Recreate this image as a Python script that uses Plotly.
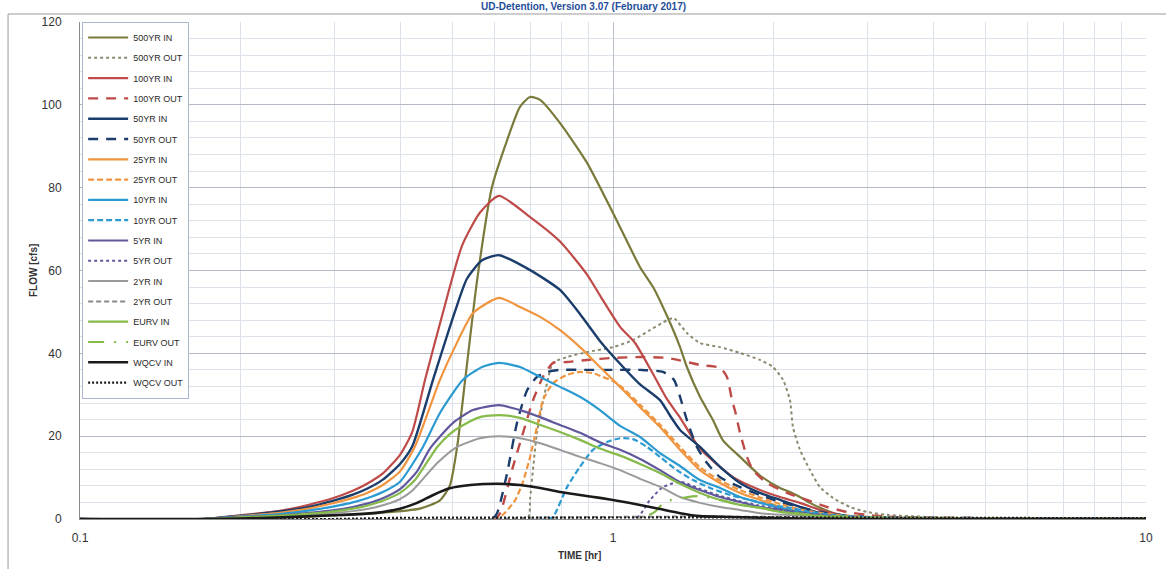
import plotly.graph_objects as go

# ---------------- data (time in hr, flow in cfs) ----------------
t_500_in = [0.1, 0.17, 0.2, 0.259, 0.3655, 0.434, 0.4735, 0.494, 0.51, 0.528, 0.556, 0.593, 0.633, 0.669, 0.699, 0.73, 0.7955, 0.894, 1.0, 1.124, 1.189, 1.263, 1.336, 1.376, 1.456, 1.54, 1.608, 1.731, 1.887, 2.058, 2.148, 2.243, 2.342, 2.446, 2.666, 3.035, 4.29, 10]
q_500_in = [0, 0, 0.2, 0.6, 1.5, 2.5, 4.5, 8, 17.4, 33.6, 57.7, 80.2, 91.5, 99.5, 101.9, 101.2, 95.6, 86, 73.9, 60.8, 56, 49, 41.5, 36.7, 29.5, 23.9, 19, 15, 10.5, 7.5, 6.5, 5.3, 3.9, 2.7, 1.0, 0.3, 0.1, 0]

t_500_out = [0.1, 0.69, 0.699, 0.72, 0.752, 0.7715, 0.82, 0.894, 1.0, 1.09, 1.173, 1.263, 1.301, 1.376, 1.456, 1.588, 1.731, 1.887, 1.996, 2.084, 2.148, 2.176, 2.243, 2.342, 2.446, 2.586, 2.784, 2.996, 3.266, 4.29, 6, 10]
q_500_out = [0, 0, 5, 20.8, 32.8, 37.7, 39.1, 40.3, 41.5, 43.2, 45.6, 48, 48.5, 44.9, 42.5, 41.5, 40.1, 38.4, 36.7, 33.6, 28.7, 22.2, 16.7, 11.8, 7.7, 5.1, 2.9, 1.7, 1.0, 0.3, 0.1, 0]

t_100_in = [0.1, 0.17, 0.2, 0.237, 0.27, 0.298, 0.325, 0.3455, 0.37, 0.3985, 0.42, 0.444, 0.48, 0.521, 0.563, 0.611, 0.699, 0.7955, 0.894, 0.945, 1.031, 1.1, 1.189, 1.262, 1.336, 1.456, 1.68, 1.887, 2.058, 2.243, 2.446, 2.666, 3.035, 4.5, 10]
q_100_in = [0, 0, 0.9, 2.0, 3.5, 5.0, 6.8, 8.5, 11.0, 15.5, 21.0, 33.6, 50.0, 66.0, 74.0, 78.0, 72.9, 67.0, 59.0, 54.0, 46.4, 42.5, 35.0, 29.0, 24.5, 17.0, 10.1, 7.0, 5.3, 3.9, 2.2, 1.0, 0.3, 0.1, 0]

t_100_out = [0.1, 0.6005, 0.614, 0.649, 0.678, 0.708, 0.739, 0.772, 0.82, 0.894, 1.0, 1.124, 1.263, 1.456, 1.588, 1.636, 1.672, 1.695, 1.731, 1.784, 1.831, 1.945, 2.121, 2.312, 2.52, 2.748, 2.996, 3.455, 5.32, 10]
q_100_out = [0, 0, 1.4, 12.6, 20.8, 28.7, 34.3, 37.7, 37.9, 38.4, 38.9, 39.1, 38.9, 37.2, 36.5, 34.3, 28.7, 26.0, 20.8, 15.0, 11.8, 8.7, 6.3, 4.6, 2.9, 1.7, 1.0, 0.4, 0.2, 0.1]

t_50_in = [0.1, 0.17, 0.2, 0.237, 0.27, 0.298, 0.325, 0.3455, 0.37, 0.3985, 0.42, 0.4595, 0.505, 0.532, 0.568, 0.611, 0.699, 0.7955, 0.867, 0.945, 1.031, 1.124, 1.225, 1.279, 1.336, 1.456, 1.588, 1.731, 1.887, 2.058, 2.243, 2.446, 2.75, 4.0, 10]
q_50_in = [0, 0, 0.8, 1.8, 3.0, 4.4, 5.9, 7.3, 9.5, 13.3, 17.5, 33.6, 50.0, 58.0, 62.5, 63.7, 60.1, 55.3, 49.5, 43.0, 37.5, 32.5, 28.7, 25.0, 21.5, 17.4, 12.6, 8.7, 6.3, 4.6, 2.9, 1.4, 0.3, 0.1, 0]

t_50_out = [0.1, 0.593, 0.606, 0.633, 0.6605, 0.69, 0.72, 0.752, 0.7955, 0.894, 1.0, 1.124, 1.241, 1.301, 1.336, 1.376, 1.437, 1.501, 1.588, 1.731, 1.887, 2.058, 2.243, 2.446, 2.666, 3.17, 5.32, 10]
q_50_out = [0, 0, 1.4, 11.1, 23.2, 31.1, 34.3, 35.5, 36.0, 36.0, 36.0, 36.0, 35.5, 33.6, 29.5, 23.9, 17.4, 13.5, 10.1, 7.7, 5.8, 4.1, 2.9, 1.7, 1.0, 0.4, 0.2, 0.1]

t_25_in = [0.1, 0.17, 0.2, 0.237, 0.27, 0.298, 0.325, 0.3455, 0.37, 0.3985, 0.425, 0.4735, 0.505, 0.546, 0.611, 0.669, 0.73, 0.7955, 0.867, 0.945, 1.031, 1.124, 1.225, 1.336, 1.456, 1.588, 1.731, 1.887, 2.058, 2.243, 2.666, 4.0, 10]
q_25_in = [0, 0, 0.7, 1.5, 2.6, 3.8, 5.1, 6.3, 8.2, 11.5, 17.5, 33.6, 41.5, 49.7, 53.4, 51.2, 48.8, 45.6, 41.5, 36.7, 31.9, 27.0, 22.2, 16.7, 11.8, 8.7, 6.3, 4.6, 2.9, 1.7, 0.5, 0.1, 0]

t_25_out = [0.1, 0.606, 0.627, 0.655, 0.678, 0.699, 0.72, 0.739, 0.772, 0.82, 0.867, 0.917, 0.958, 1.0, 1.031, 1.124, 1.225, 1.336, 1.456, 1.588, 1.731, 1.887, 2.058, 2.243, 2.446, 2.666, 3.2, 5.32, 10]
q_25_out = [0, 0, 1.5, 4.5, 9.0, 15.0, 22.2, 28.7, 32.8, 34.8, 35.5, 35.2, 34.3, 33.3, 32.2, 27.6, 22.8, 17.4, 12.5, 9.3, 7.0, 5.2, 3.6, 2.3, 1.5, 0.9, 0.4, 0.2, 0.1]

t_10_in = [0.1, 0.17, 0.2, 0.237, 0.27, 0.298, 0.325, 0.3455, 0.37, 0.3985, 0.44, 0.4735, 0.523, 0.568, 0.611, 0.669, 0.73, 0.7955, 0.867, 0.945, 1.031, 1.124, 1.225, 1.336, 1.456, 1.588, 1.731, 1.887, 2.058, 2.243, 2.666, 4.0, 10]
q_10_in = [0, 0, 0.6, 1.2, 2.1, 3.0, 4.0, 5.0, 6.5, 9.0, 17.4, 25.6, 33.6, 36.7, 37.7, 36.7, 34.3, 31.9, 29.5, 26.3, 22.5, 19.8, 15.9, 12.8, 9.4, 7.5, 5.3, 3.9, 2.7, 1.7, 0.5, 0.1, 0]

t_10_out = [0.1, 0.755, 0.772, 0.82, 0.867, 0.917, 0.9745, 1.031, 1.09, 1.158, 1.225, 1.318, 1.413, 1.521, 1.658, 1.807, 1.971, 2.148, 2.342, 2.586, 3.035, 5.32, 10]
q_10_out = [0, 0, 0.5, 7.7, 12.6, 16.7, 18.6, 19.5, 19.3, 17.4, 15.0, 11.8, 9.4, 7.5, 5.8, 4.6, 3.4, 2.7, 1.7, 1.0, 0.4, 0.2, 0.1]

t_5_in = [0.1, 0.17, 0.2, 0.237, 0.27, 0.298, 0.325, 0.3455, 0.37, 0.3985, 0.429, 0.4535, 0.501, 0.546, 0.611, 0.669, 0.73, 0.7955, 0.867, 0.945, 1.031, 1.124, 1.225, 1.336, 1.456, 1.588, 1.731, 1.887, 2.058, 2.243, 2.784, 4.0, 10]
q_5_in = [0, 0, 0.5, 0.9, 1.5, 2.1, 2.9, 3.7, 5.0, 7.2, 11.5, 17.0, 23.2, 26.3, 27.5, 26.3, 24.6, 22.7, 20.8, 18.5, 16.7, 14.5, 11.8, 8.9, 7.0, 5.3, 4.1, 2.9, 2.2, 1.4, 0.3, 0.1, 0]

t_5_out = [0.1, 1.1, 1.173, 1.241, 1.336, 1.456, 1.588, 1.731, 1.887, 2.058, 2.243, 2.5, 3.0, 4.0, 10]
q_5_out = [0, 0, 4.6, 7.7, 9.0, 7.3, 5.6, 4.3, 3.2, 2.4, 1.6, 0.9, 0.4, 0.2, 0.1]

t_2_in = [0.1, 0.17, 0.2, 0.237, 0.27, 0.298, 0.325, 0.3455, 0.37, 0.3985, 0.42, 0.468, 0.51, 0.563, 0.611, 0.669, 0.73, 0.7955, 0.867, 0.945, 1.031, 1.124, 1.225, 1.336, 1.456, 1.588, 1.731, 1.887, 2.1, 2.784, 4.0, 10]
q_2_in = [0, 0, 0.3, 0.6, 1.0, 1.4, 1.9, 2.4, 3.3, 4.8, 6.8, 13.5, 17.4, 19.5, 20.0, 19.5, 18.3, 16.7, 15.0, 13.5, 11.8, 9.7, 7.8, 5.3, 3.9, 2.9, 2.2, 1.4, 1.0, 0.2, 0.05, 0]

t_2_out = [0.1, 0.6, 0.7, 1.0, 1.5, 2.0, 3.0, 4.0, 10]
q_2_out = [0, 0, 0.3, 0.5, 0.6, 0.5, 0.3, 0.2, 0.1]

t_eurv_in = [0.1, 0.17, 0.2, 0.237, 0.27, 0.298, 0.325, 0.3455, 0.37, 0.3985, 0.425, 0.468, 0.494, 0.516, 0.563, 0.611, 0.669, 0.73, 0.7955, 0.867, 0.945, 1.031, 1.124, 1.225, 1.336, 1.456, 1.588, 1.731, 1.887, 2.058, 2.243, 2.784, 4.0, 10]
q_eurv_in = [0, 0, 0.4, 0.8, 1.3, 1.8, 2.5, 3.2, 4.4, 6.3, 9.4, 17.4, 20.5, 22.2, 24.6, 25.1, 24.4, 22.7, 21.0, 19.1, 17.0, 15.3, 13.3, 11.1, 8.5, 6.3, 4.6, 3.4, 2.7, 1.7, 1.2, 0.3, 0.1, 0]

t_eurv_out = [0.1, 1.12, 1.2, 1.25, 1.38, 1.46, 1.59, 1.73, 1.89, 2.06, 2.24, 2.5, 3.0, 4.0, 10]
q_eurv_out = [0, 0, 1.8, 4.1, 5.3, 5.5, 4.6, 3.5, 2.7, 1.9, 1.3, 0.8, 0.4, 0.2, 0.1]

t_wqcv_in = [0.1, 0.17, 0.2, 0.24, 0.298, 0.3455, 0.37, 0.3985, 0.429, 0.46, 0.494, 0.54, 0.611, 0.669, 0.73, 0.7955, 0.867, 0.945, 1.031, 1.124, 1.225, 1.336, 1.456, 1.68, 2.2, 3.0, 10]
q_wqcv_in = [0, 0, 0.1, 0.4, 0.9, 1.3, 1.7, 2.5, 3.9, 5.8, 7.4, 8.2, 8.5, 8.2, 7.5, 6.5, 5.8, 5.1, 4.3, 3.4, 2.4, 1.4, 0.7, 0.5, 0.1, 0, 0]

t_wqcv_out = [0.1, 0.3, 0.4, 1.0, 2.0, 3.5, 10]
q_wqcv_out = [0, 0, 0.3, 0.4, 0.4, 0.3, 0.2]

x_tick_vals = [0.1, 1, 10]
x_tick_text = ["0.1", "1", "10"]
x_minor_vals = [0.2, 0.3, 0.4, 0.5, 0.6, 0.7, 0.8, 0.9, 2, 3, 4, 5, 6, 7, 8, 9]

series = [
    ("500YR IN", t_500_in, q_500_in, "#7A7A3A", "solid", 2.2, "spline"),
    ("500YR OUT", t_500_out, q_500_out, "#8A8A6E", "dot", 2.0, "spline"),
    ("100YR IN", t_100_in, q_100_in, "#BE4B48", "solid", 2.2, "spline"),
    ("100YR OUT", t_100_out, q_100_out, "#BE4B48", "10px,8px", 2.4, "spline"),
    ("50YR IN", t_50_in, q_50_in, "#1B3D6B", "solid", 2.4, "spline"),
    ("50YR OUT", t_50_out, q_50_out, "#1B3D6B", "10px,8px", 2.4, "spline"),
    ("25YR IN", t_25_in, q_25_in, "#F0953F", "solid", 2.2, "spline"),
    ("25YR OUT", t_25_out, q_25_out, "#F0953F", "6px,3px", 2.2, "spline"),
    ("10YR IN", t_10_in, q_10_in, "#2B9AD0", "solid", 2.2, "spline"),
    ("10YR OUT", t_10_out, q_10_out, "#2B9AD0", "6px,3px", 2.2, "spline"),
    ("5YR IN", t_5_in, q_5_in, "#5F589C", "solid", 2.2, "spline"),
    ("5YR OUT", t_5_out, q_5_out, "#5F589C", "dot", 2.0, "spline"),
    ("2YR IN", t_2_in, q_2_in, "#9A9A9A", "solid", 2.0, "spline"),
    ("2YR OUT", t_2_out, q_2_out, "#8A8A8A", "5px,3px", 2.0, "spline"),
    ("EURV IN", t_eurv_in, q_eurv_in, "#86BA4A", "solid", 2.2, "spline"),
    ("EURV OUT", t_eurv_out, q_eurv_out, "#86BA4A", "16px,10px,2px,10px", 2.2, "spline"),
    ("WQCV IN", t_wqcv_in, q_wqcv_in, "#1A1A1A", "solid", 2.6, "spline"),
    ("WQCV OUT", t_wqcv_out, q_wqcv_out, "#1A1A1A", "2px,2px", 2.2, "linear"),
]

FONT = "Liberation Sans Narrow, Arial Narrow, Liberation Sans, Arial, sans-serif"

fig = go.Figure()
for name, t, q, color, dash, width, shape in series:
    fig.add_trace(go.Scatter(
        x=t, y=q, mode="lines", name=name, legendgroup=name,
        line=dict(color=color, dash=dash, width=width, shape=shape,
                  smoothing=0.6 if shape == "spline" else None),
    ))

fig.update_layout(
    width=1166, height=569,
    margin=dict(l=80, r=20, t=22, b=50),
    paper_bgcolor="white", plot_bgcolor="white",
    font=dict(family=FONT, color="#333333", size=11),
    showlegend=True,
    legend=dict(
        x=0.002, y=1.0, xanchor="left", yanchor="top",
        bgcolor="white", bordercolor="#A9B8CF", borderwidth=1,
        font=dict(family=FONT, size=9, color="#2A2A2A"),
        tracegroupgap=1.3, itemwidth=40,
    ),
    xaxis=dict(
        type="log", range=[-1, 1],
        tickmode="array", tickvals=x_tick_vals, ticktext=x_tick_text,
        showgrid=True, gridcolor="#B9BFCB", gridwidth=1,
        minor=dict(tickmode="array", tickvals=x_minor_vals, showgrid=True,
                   gridcolor="#DCE1EA", gridwidth=1, ticks=""),
        showline=True, linecolor="#8C8C8C", linewidth=1,
        ticks="outside", ticklen=8, tickcolor="rgba(0,0,0,0)", zeroline=False,
        tickfont=dict(family=FONT, size=12, color="#333333"),
    ),
    yaxis=dict(
        range=[0, 120], dtick=20, tick0=0,
        showgrid=True, gridcolor="#B4B8C2", gridwidth=1,
        minor=dict(dtick=4, showgrid=True, gridcolor="#DCE1EA", gridwidth=1, ticks=""),
        showline=True, linecolor="#8C8C8C", linewidth=1,
        ticks="outside", ticklen=15, tickcolor="rgba(0,0,0,0)", zeroline=False,
        tickfont=dict(family=FONT, size=12, color="#333333"),
    ),
    annotations=[
        dict(text="<b>UD-Detention, Version 3.07 (February 2017)</b>", xref="paper", yref="paper",
             x=0.472, y=1.0443, xanchor="center", yanchor="top", showarrow=False,
             borderpad=0, font=dict(family=FONT, size=10, color="#1F4E9A")),
        dict(text="<b>FLOW [cfs]</b>", xref="paper", yref="paper",
             x=-0.0441, y=0.501, xanchor="center", yanchor="middle", textangle=-90,
             showarrow=False, font=dict(family=FONT, size=10, color="#333333")),
        dict(text="<b>TIME [hr]</b>", xref="paper", yref="paper",
             x=0.469, y=-0.0744, xanchor="center", yanchor="middle", showarrow=False,
             font=dict(family=FONT, size=10, color="#333333")),
    ],
    shapes=[
        dict(type="line", xref="paper", yref="paper", x0=-0.0675, x1=1.02,
             y0=1.0161, y1=1.0161, line=dict(color="#9A9A9A", width=1)),
        dict(type="line", xref="paper", yref="paper", x0=-0.0675, x1=-0.0675,
             y0=1.0161, y1=-0.11, line=dict(color="#9A9A9A", width=1)),
    ],
)

fig.write_html("out.html")
